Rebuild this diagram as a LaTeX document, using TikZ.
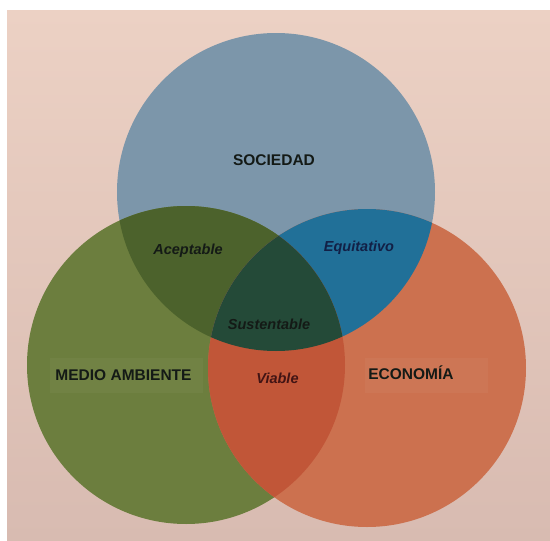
\documentclass[tikz,border=0pt]{standalone}
\usepackage{fontspec}
\setmainfont{Liberation Sans}
% region colours of the three-set diagram
\definecolor{bgtop}{RGB}{236,209,196}
\definecolor{bgbot}{RGB}{216,187,177}
\definecolor{csoc}{RGB}{124,150,170}
\definecolor{cmed}{RGB}{108,126,62}
\definecolor{ceco}{RGB}{204,113,79}
\definecolor{csocmed}{RGB}{76,98,44}
\definecolor{csoceco}{RGB}{33,112,152}
\definecolor{cmedeco}{RGB}{193,86,56}
\definecolor{call}{RGB}{36,74,56}
\definecolor{tnavy}{RGB}{18,32,70}
\definecolor{tred}{RGB}{66,20,20}
\definecolor{tdark}{RGB}{20,26,22}
\begin{document}
\begin{tikzpicture}[x=1pt,y=-1pt,
  mainlabel/.style={font=\bfseries\fontsize{15.5}{18}\selectfont, text=tdark, inner sep=0pt},
  sublabel/.style={font=\bfseries\itshape\fontsize{14.5}{17}\selectfont, inner sep=0pt},
  labelpad/.style={fill=white, fill opacity=0.035}]
\useasboundingbox (0,0) rectangle (550,541);
\fill[white] (0,0) rectangle (550,541);
\shade[top color=bgtop, bottom color=bgbot] (7,10) rectangle (550,541);

% circle centres
\coordinate (soc) at (276,192);
\coordinate (med) at (186,365);
\coordinate (eco) at (367,368);
\def\R{159pt}

% single sets
\fill[csoc] (soc) circle[radius=\R];
\fill[cmed] (med) circle[radius=\R];
\fill[ceco] (eco) circle[radius=\R];

% pairwise overlaps
\begin{scope}
  \clip (soc) circle[radius=\R];
  \fill[csocmed] (med) circle[radius=\R];
  \fill[csoceco] (eco) circle[radius=\R];
\end{scope}
\begin{scope}
  \clip (med) circle[radius=\R];
  \fill[cmedeco] (eco) circle[radius=\R];
\end{scope}
% triple overlap
\begin{scope}
  \clip (soc) circle[radius=\R];
  \clip (med) circle[radius=\R];
  \fill[call] (eco) circle[radius=\R];
\end{scope}

% faint panels behind the lower labels
\fill[labelpad] (50,358) rectangle (203,393);
\fill[labelpad] (365,358) rectangle (488,393);

% labels
\node[mainlabel] (lsoc) at (274,160) {SOCIEDAD};
\node[mainlabel] (lmed) at (123.5,375) {MEDIO AMBIENTE};
\node[mainlabel] (leco) at (411,373) {ECONOMÍA};
\node[sublabel, text=tdark] (lacep) at (188,251) {Aceptable};
\node[sublabel, text=tnavy] (lequi) at (359,248) {Equitativo};
\node[sublabel, text=tdark] (lsust) at (269,324) {Sustentable};
\node[sublabel, text=tred] (lviab) at (277.5,378) {Viable};
\end{tikzpicture}
\end{document}
